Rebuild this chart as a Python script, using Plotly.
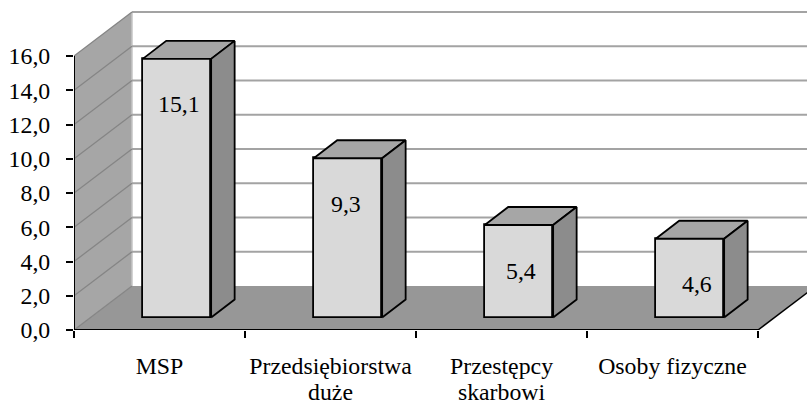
import plotly.graph_objects as go

categories = [["MSP"], ["Przedsiębiorstwa", "duże"], ["Przestępcy", "skarbowi"], ["Osoby fizyczne"]]
values = [15.1, 9.3, 5.4, 4.6]
value_labels = ["15,1", "9,3", "5,4", "4,6"]
y_ticks = [0, 2, 4, 6, 8, 10, 12, 14, 16]
x_boundaries = [0, 1, 2, 3, 4]
label_centres = [0.5, 1.5, 2.5, 3.5]
label_shift_px = [2, -2, 2, 7.5]

W, H = 807, 404
LEFT, BOTTOM = 74, 74
UNIT_X = 171.0
UNIT_Y = 17.125
xmax = (W - LEFT) / UNIT_X
ymax = (H - BOTTOM) / UNIT_Y

# oblique projection offsets, in axis units
WALL_DX, WALL_DY = 58 / UNIT_X, 44 / UNIT_Y
BAR_BASE = 12.5 / UNIT_Y
BAR_LEFT, BAR_W = 0.402, 0.4
BAR_DX, BAR_DY = 23.5 / UNIT_X, 18 / UNIT_Y

WALL = "#a6a6a6"
FLOOR = "#979797"
FRONT = "#d9d9d9"
TOP = "#a6a6a6"
SIDE = "#8c8c8c"
GRID = "#a3a3a3"
WALLGRID = "#858585"
INK = "#000000"
TEXT_SIZE = 23.8

fig = go.Figure()


def poly(xs, ys, fill, line=None, width=0, axes="x", yaxis="y"):
    fig.add_trace(go.Scatter(
        x=xs, y=ys, mode="lines", fill="toself" if fill else "none", fillcolor=fill,
        line=dict(color=line or "rgba(0,0,0,0)", width=width), hoverinfo="skip",
        showlegend=False, xaxis=axes, yaxis=yaxis, cliponaxis=axes != "x"))


top = y_ticks[-1]
end = x_boundaries[-1]

# floor and left wall
poly([WALL_DX, WALL_DX + end, end, 0, WALL_DX], [WALL_DY, WALL_DY, 0, 0, WALL_DY], FLOOR)
poly([0, WALL_DX, WALL_DX, 0, 0], [0, WALL_DY, top + WALL_DY, top, 0], WALL)
poly([WALL_DX, WALL_DX], [WALL_DY, top + WALL_DY], None, "#c4c4c4", 1.5)

# gridlines on both walls
for v in y_ticks:
    if v > 0:
        poly([WALL_DX, xmax + 0.1], [v + WALL_DY, v + WALL_DY], None, GRID, 2)
    poly([0, WALL_DX], [v, v + WALL_DY], None, WALLGRID, 1.3)

# axis lines
poly([0, 0], [0, top], None, INK, 2)
poly([0, end], [0, 0], None, INK, 2)
poly([end, end + WALL_DX], [0, WALL_DY], None, INK, 1.5)

# bars
fig.add_trace(go.Bar(
    x=[i + BAR_LEFT + BAR_W / 2 for i in range(len(values))], y=values,
    base=BAR_BASE, width=BAR_W, marker=dict(color=FRONT, line=dict(color=INK, width=1.8)),
    hoverinfo="skip", showlegend=False, xaxis="x2", yaxis="y2"))
for i, v in enumerate(values):
    x0, x1 = i + BAR_LEFT, i + BAR_LEFT + BAR_W
    y0, y1 = BAR_BASE, BAR_BASE + v
    poly([x0, x1, x1 + BAR_DX, x0 + BAR_DX, x0], [y1, y1, y1 + BAR_DY, y1 + BAR_DY, y1],
         TOP, INK, 1.8, "x2", "y2")
    poly([x1, x1 + BAR_DX, x1 + BAR_DX, x1, x1], [y0, y0 + BAR_DY, y1 + BAR_DY, y1, y0],
         SIDE, INK, 1.8, "x2", "y2")
    fig.add_annotation(x=x0 + BAR_W / 2, y=y1 - 45.5 / UNIT_Y, xref="x2", yref="y2", text=value_labels[i],
                       showarrow=False, xshift=label_shift_px[i],
                       font=dict(family="Liberation Serif", size=TEXT_SIZE, color=INK))

font = dict(family="Liberation Serif", size=TEXT_SIZE, color=INK)
# a smaller base font keeps the two-line labels at the reference's tight line spacing
span = '<span style="font-size:%spx">%%s</span>' % TEXT_SIZE
tick_text = ["<br>".join(span % line for line in lines) for lines in categories]

fig.update_layout(
    width=W, height=H, autosize=False,
    margin=dict(l=LEFT, r=0, t=0, b=BOTTOM),
    paper_bgcolor="white", plot_bgcolor="white",
    separators=", ", showlegend=False, bargap=0,
    xaxis=dict(range=[0, xmax], tickmode="array", tickvals=x_boundaries, ticktext=[""] * 5,
               ticks="outside", ticklen=7, tickwidth=2, tickcolor=INK, automargin=False,
               showgrid=False, zeroline=False, showline=False),
    yaxis=dict(range=[0, ymax], tickmode="array", tickvals=y_ticks, tickformat=".1f",
               ticks="outside", ticklen=7, tickwidth=2, tickcolor=INK, tickfont=font,
               ticklabelstandoff=11, automargin=False,
               showgrid=False, zeroline=False, showline=False),
    xaxis2=dict(range=[0, xmax], overlaying="x", anchor="y2", side="bottom",
                tickmode="array", tickvals=label_centres, ticktext=tick_text,
                ticks="outside", ticklen=19, tickcolor="rgba(0,0,0,0)",
                tickfont=dict(family="Liberation Serif", size=20, color=INK),
                automargin=False, showgrid=False, zeroline=False, showline=False),
    yaxis2=dict(range=[0, ymax], overlaying="y", anchor="x2", visible=False, automargin=False),
)

fig.write_html("out.html", config={"displayModeBar": False},
               post_script="document.body.style.margin='0';document.documentElement.style.overflow='hidden';")
